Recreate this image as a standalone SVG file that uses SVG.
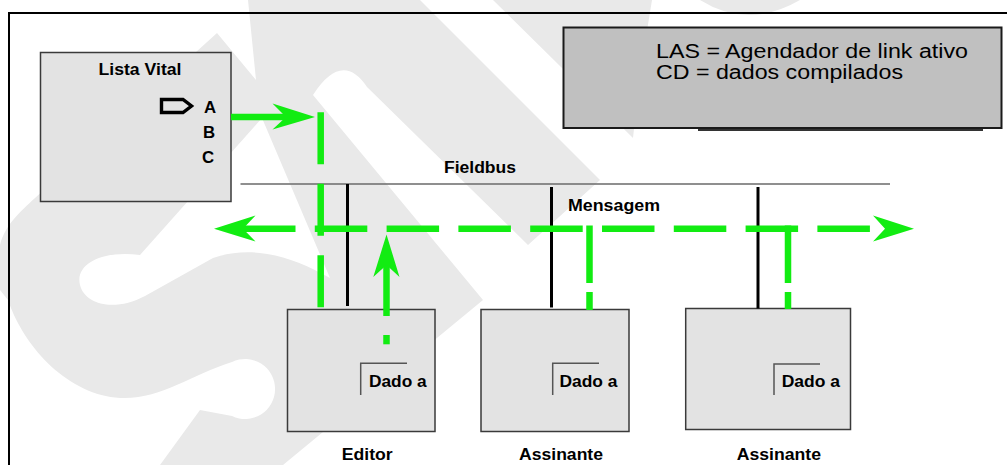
<svg xmlns="http://www.w3.org/2000/svg" width="1007" height="465" viewBox="0 0 1007 465">
  <style>
    .wm { fill: #e9e9e9; }
    .wm-cut { fill: #ffffff; }
    .frame { fill: none; stroke: #000; stroke-width: 2; }
    .box { fill: #e3e3e3; stroke: #3a3a3a; stroke-width: 1.5; }
    .legend { fill: #c0c0c0; stroke: #1a1a1a; stroke-width: 2; }
    .bracket { fill: none; stroke: #555; stroke-width: 1.5; }
    .lbl { font-family: "Liberation Sans", Arial, Helvetica, sans-serif; font-weight: bold; font-size: 16.8px; fill: #000; }
    .leg { font-family: "Liberation Sans", Arial, Helvetica, sans-serif; font-size: 19.5px; fill: #000; }
    .bus { stroke: #6a6a6a; stroke-width: 1.6; }
    .stub { stroke: #000; stroke-width: 3; }
    .flow { fill: none; stroke: #12ec12; stroke-width: 6.5; }
    .head { fill: #12ec12; }
  </style>

  <!-- background logo -->
  <g id="logo">
    <path class="wm" d="M248,0 L420,0 L600,180 L528,245 L367,87 Q342,50 313,95 L483,300 L283,465 L160,465 L200,410 L232,416 A30,30 0 1 0 232,362 C190,375 160,400 120,398 C70,395 25,350 8,300 L0,290 L0,245 C5,225 20,212 35,198 L217,33 L256,80 Z"/>
    <path class="wm-cut" d="M262,118 L140,255 C100,250 75,265 80,285 C85,305 115,312 145,296 L213,258 C250,245 290,255 330,278 Z"/>
    <path class="wm" d="M493,0 L652,0 Q640,70 633,138 Z"/>
    <path class="wm" d="M700,0 Q748,30 800,0 Z"/>
  </g>

  <!-- outer frame -->
  <path class="frame" d="M9,470 V13 H1010"/>

  <!-- legend -->
  <g id="legend">
    <rect class="legend" x="563.5" y="27.5" width="438" height="100.5"/>
    <line x1="698" y1="130" x2="983" y2="130" stroke="#333" stroke-width="2"/>
    <text class="leg" x="656" y="57.5" textLength="312" lengthAdjust="spacingAndGlyphs">LAS = Agendador de link ativo</text>
    <text class="leg" x="656" y="78.5" textLength="247" lengthAdjust="spacingAndGlyphs">CD = dados compilados</text>
  </g>

  <!-- live list -->
  <g id="lista-vital">
    <rect class="box" x="40.5" y="52.5" width="190.5" height="149"/>
    <text class="lbl" x="98.5" y="75" textLength="83" lengthAdjust="spacingAndGlyphs">Lista Vital</text>
    <polygon points="161.5,99.5 183,99.5 191.5,106 183,112.5 161.5,112.5" fill="none" stroke="#000" stroke-width="3.4" stroke-linejoin="miter"/>
    <text class="lbl" x="204" y="113">A</text>
    <text class="lbl" x="203" y="137.5">B</text>
    <text class="lbl" x="202" y="162.5">C</text>
  </g>

  <!-- bus -->
  <g id="fieldbus">
    <line class="bus" x1="240.5" y1="184" x2="890" y2="184"/>
    <text class="lbl" x="444" y="173" textLength="72" lengthAdjust="spacingAndGlyphs">Fieldbus</text>
  </g>

  <!-- devices -->
  <g id="editor">
    <rect class="box" x="287.5" y="309.5" width="147.5" height="122"/>
    <path class="bracket" d="M360.7,395 V363.3 H407"/>
    <text class="lbl" x="369" y="387" textLength="57.7" lengthAdjust="spacingAndGlyphs">Dado a</text>
    <text class="lbl" x="341.7" y="460" textLength="51" lengthAdjust="spacingAndGlyphs">Editor</text>
  </g>
  <g id="assinante-1">
    <rect class="box" x="481" y="309.5" width="148" height="122"/>
    <path class="bracket" d="M552.7,395 V363.3 H599"/>
    <text class="lbl" x="559.5" y="387" textLength="58" lengthAdjust="spacingAndGlyphs">Dado a</text>
    <text class="lbl" x="519" y="460" textLength="84" lengthAdjust="spacingAndGlyphs">Assinante</text>
  </g>
  <g id="assinante-2">
    <rect class="box" x="685.7" y="308.5" width="164.8" height="121"/>
    <path class="bracket" d="M774,395 V364 H820"/>
    <text class="lbl" x="781.7" y="386.5" textLength="58.3" lengthAdjust="spacingAndGlyphs">Dado a</text>
    <text class="lbl" x="736.7" y="460" textLength="84.3" lengthAdjust="spacingAndGlyphs">Assinante</text>
  </g>

  <!-- connectors -->
  <g id="connectors">
    <!-- drops to the bus -->
    <line class="stub" x1="347.5" y1="184" x2="347.5" y2="306"/>
    <line class="stub" x1="551.5" y1="187" x2="551.5" y2="307.5"/>
    <line class="stub" x1="758" y1="187" x2="758" y2="308.5"/>

    <!-- scheduler pointer to the publisher -->
    <line class="flow" x1="231" y1="117" x2="288" y2="117"/>
    <polygon class="head" points="315,117 272.5,103.5 286,117 272.5,129.5"/>
    <line class="flow" x1="320.7" y1="112.3" x2="320.7" y2="310" stroke-dasharray="52 19.5"/>

    <!-- message broadcast on the bus -->
    <text class="lbl" x="568" y="210.5" textLength="92" lengthAdjust="spacingAndGlyphs">Mensagem</text>
    <line class="flow" x1="243" y1="228.7" x2="872" y2="228.7" stroke-dasharray="52.5 19.3"/>
    <polygon class="head" points="214,228.7 255.5,215.5 243,228.7 255.5,241.5"/>
    <polygon class="head" points="914,228.7 873,215.5 885,228.7 873,241.5"/>

    <!-- publisher sends data -->
    <line class="flow" x1="386.5" y1="262" x2="386.5" y2="316"/>
    <line class="flow" x1="386.5" y1="335" x2="386.5" y2="344.3"/>
    <polygon class="head" points="386.5,234.5 373.3,277 386.5,265 399.5,277"/>

    <!-- subscribers receive data -->
    <path class="flow" d="M589.5,225.5 V283 M589.5,292 V310"/>
    <path class="flow" d="M788,225.5 V283 M788,292 V309"/>
  </g>
</svg>
